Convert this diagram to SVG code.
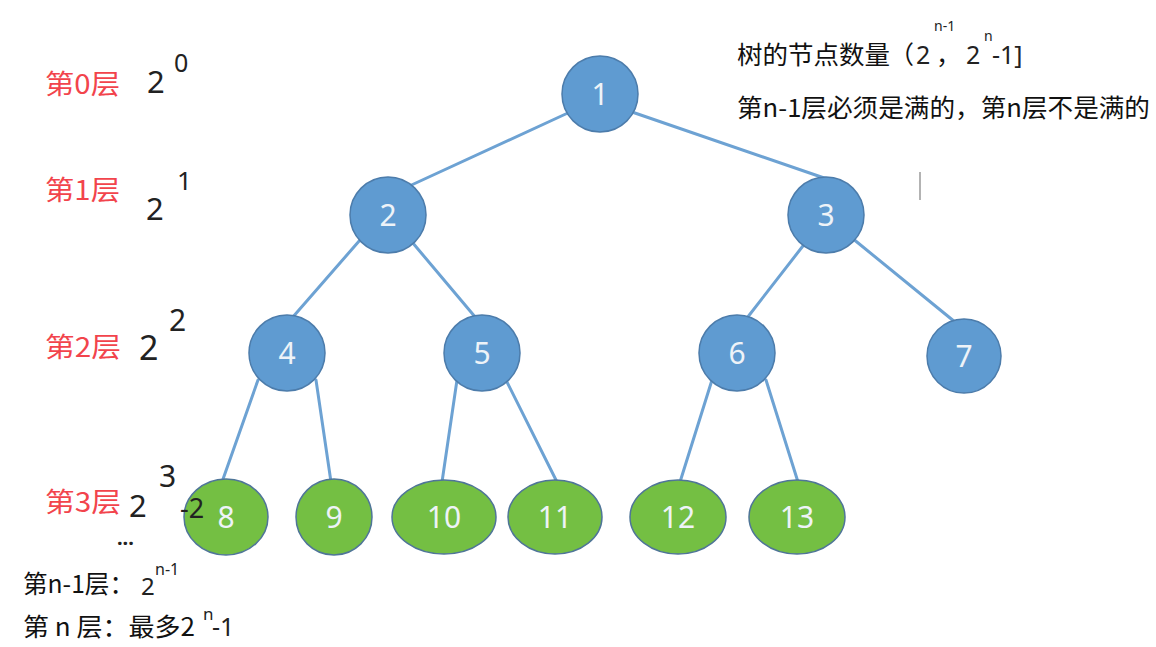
<svg xmlns="http://www.w3.org/2000/svg" width="1156" height="647" viewBox="0 0 1156 647">
<style>
.edge{stroke:#6da2d3;stroke-width:3;fill:none;stroke-linecap:round}
.blue{fill:#5f9bd1;stroke:#4c7cab;stroke-width:1.5}
.green{fill:#74bf43;stroke:#4f7598;stroke-width:1.5}
.nl{font-family:"Noto Sans","Liberation Sans",sans-serif;font-size:30px;fill:#eef3f8;text-anchor:middle}
.red{font-family:"Noto Sans CJK SC",sans-serif;font-size:27px;fill:#f2444c}
.blk{font-family:"Noto Sans","Noto Sans CJK SC",sans-serif;fill:#222}
.cjk{font-family:"Noto Sans CJK SC",sans-serif;fill:#111}
</style>
<rect width="1156" height="647" fill="#ffffff"/>
<g id="connectors">
<line class="edge" x1="570" y1="112" x2="405" y2="188"/>
<line class="edge" x1="632" y1="112" x2="830" y2="180"/>
<line class="edge" x1="360" y1="240" x2="292" y2="318"/>
<line class="edge" x1="412" y1="242" x2="476" y2="318"/>
<line class="edge" x1="806" y1="242" x2="747" y2="318"/>
<line class="edge" x1="852" y1="238" x2="955" y2="322"/>
<line class="edge" x1="258" y1="380" x2="222" y2="482"/>
<line class="edge" x1="316" y1="380" x2="331" y2="482"/>
<line class="edge" x1="457" y1="380" x2="442" y2="482"/>
<line class="edge" x1="505" y1="378" x2="557" y2="482"/>
<line class="edge" x1="712" y1="380" x2="680" y2="482"/>
<line class="edge" x1="766" y1="380" x2="798" y2="482"/>
</g>
<g id="n1"><circle class="blue" cx="600" cy="94" r="38"/><text class="nl" x="600" y="105">1</text></g>
<g id="n2"><circle class="blue" cx="388" cy="215" r="38"/><text class="nl" x="388" y="226">2</text></g>
<g id="n3"><circle class="blue" cx="826" cy="215" r="38"/><text class="nl" x="826" y="226">3</text></g>
<g id="n4"><circle class="blue" cx="287" cy="353" r="38"/><text class="nl" x="287" y="364">4</text></g>
<g id="n5"><circle class="blue" cx="482" cy="353" r="38"/><text class="nl" x="482" y="364">5</text></g>
<g id="n6"><circle class="blue" cx="737" cy="353" r="38"/><text class="nl" x="737" y="364">6</text></g>
<g id="n7"><circle class="blue" cx="964" cy="356" r="37"/><text class="nl" x="964" y="367">7</text></g>
<g id="n8"><ellipse class="green" cx="226" cy="517" rx="42" ry="38"/><text class="nl" x="226" y="528">8</text></g>
<g id="n9"><ellipse class="green" cx="334" cy="517" rx="38" ry="38"/><text class="nl" x="334" y="528">9</text></g>
<g id="n10"><ellipse class="green" cx="444" cy="517" rx="52" ry="37"/><text class="nl" x="444" y="528">10</text></g>
<g id="n11"><ellipse class="green" cx="555" cy="517" rx="47" ry="37"/><text class="nl" x="555" y="528">11</text></g>
<g id="n12"><ellipse class="green" cx="678" cy="517" rx="48" ry="37"/><text class="nl" x="678" y="528">12</text></g>
<g id="n13"><ellipse class="green" cx="797" cy="517" rx="48" ry="37"/><text class="nl" x="797" y="528">13</text></g>
<line x1="920" y1="172" x2="920" y2="200" stroke="#9a9a9a" stroke-width="1.5"/>
<g id="labels">
<text class="red" x="45" y="94" textLength="75" lengthAdjust="spacingAndGlyphs">第0层</text>
<text class="red" x="45" y="200" textLength="75" lengthAdjust="spacingAndGlyphs">第1层</text>
<text class="red" x="45" y="357" textLength="76" lengthAdjust="spacingAndGlyphs">第2层</text>
<text class="red" x="45" y="512" textLength="76" lengthAdjust="spacingAndGlyphs">第3层</text>
<text class="blk" x="147" y="93" font-size="31">2</text>
<text class="blk" x="174" y="72" font-size="25">0</text>
<text class="blk" x="146" y="220" font-size="31">2</text>
<text class="blk" x="177" y="190" font-size="26">1</text>
<text class="blk" x="139" y="360" font-size="34">2</text>
<text class="blk" x="169" y="331" font-size="30">2</text>
<text class="blk" x="129" y="517" font-size="31">2</text>
<text class="blk" x="159" y="487" font-size="30">3</text>
<text class="blk" x="180" y="518" font-size="27" fill="#000">-2</text>
<text class="blk" x="117" y="545" font-size="20" font-weight="bold">...</text>
<text class="cjk" x="23" y="593" font-size="25" textLength="111" lengthAdjust="spacingAndGlyphs">第n-1层：</text>
<text class="blk" x="141" y="595" font-size="24">2</text>
<text class="blk" x="155" y="575" font-size="16">n-1</text>
<text class="cjk" x="23" y="636" font-size="25" textLength="172" lengthAdjust="spacingAndGlyphs">第 n 层：最多2</text>
<text class="blk" x="203" y="620" font-size="17">n</text>
<text class="blk" x="212" y="636" font-size="25">-1</text>
<text class="cjk" x="737" y="64" font-size="25" textLength="153" lengthAdjust="spacingAndGlyphs">树的节点数量</text>
<text class="cjk" x="889" y="64" font-size="25">（</text>
<text class="blk" x="916" y="64" font-size="25">2</text>
<text class="blk" x="934" y="31" font-size="14">n-1</text>
<text class="cjk" x="936" y="64" font-size="25">，</text>
<text class="blk" x="966" y="64" font-size="25">2</text>
<text class="blk" x="984" y="41" font-size="14">n</text>
<text class="blk" x="992" y="64" font-size="25">-1]</text>
<text class="cjk" x="737" y="117" font-size="25" textLength="413" lengthAdjust="spacingAndGlyphs">第n-1层必须是满的，第n层不是满的</text>
</g>
</svg>
